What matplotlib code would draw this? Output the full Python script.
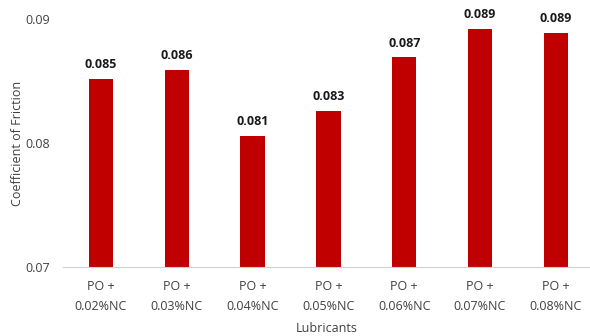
import matplotlib.pyplot as plt
import numpy as np

plt.rcParams['font.family'] = ['Open Sans', 'DejaVu Sans']

# coefficient of friction for each nano-additive concentration
lubricants = ["PO +\n0.02%NC", "PO +\n0.03%NC", "PO +\n0.04%NC", "PO +\n0.05%NC",
              "PO +\n0.06%NC", "PO +\n0.07%NC", "PO +\n0.08%NC"]
cof = [0.0852, 0.0859, 0.0806, 0.0826, 0.0869, 0.0892, 0.0889]
yticks = [0.07, 0.08, 0.09]

fig = plt.figure(figsize=(5.9, 3.36), dpi=100)
ax = fig.add_axes([63/590, 69/336, 1 - 63/590, 248/336])

x = np.arange(len(lubricants))
bars = ax.bar(x, cof, width=0.32, color='#C00000')

for xi, v in zip(x, cof):
    ax.text(xi, v + 0.0006, f"{v:.3f}", ha='center', va='bottom',
            fontsize=9, fontweight='bold', color='#1a1a1a', clip_on=False)

ax.set_xlim(-0.5, 6.45)
ax.set_ylim(0.07, 0.09)
ax.set_yticks(yticks)
ax.set_yticklabels([f"{t:g}" for t in yticks])
ax.set_xticks(x)
ax.set_xticklabels(lubricants, linespacing=1.7)

for side in ['top', 'right', 'left']:
    ax.spines[side].set_visible(False)
ax.spines['bottom'].set_color('#d0d0d0')
ax.tick_params(axis='both', length=0, labelsize=9, colors='#404040')
ax.tick_params(axis='y', pad=9)
ax.tick_params(axis='x', pad=9)

ax.set_xlabel("Lubricants", fontsize=9, color='#404040', labelpad=7)
ax.set_ylabel("Coefficient of Friction", fontsize=9, color='#404040', labelpad=1)

fig.savefig("out.png", dpi=100)
